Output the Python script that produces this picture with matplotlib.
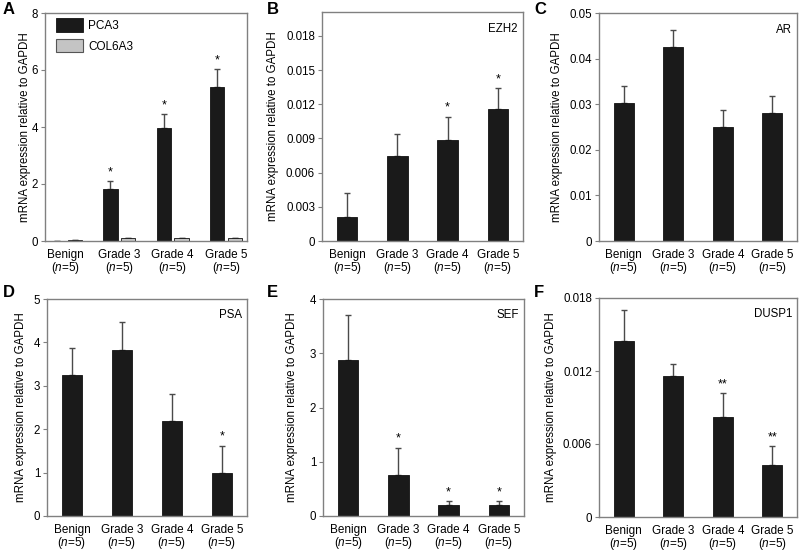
import numpy as np
import matplotlib
matplotlib.use("Agg")
import matplotlib.pyplot as plt
from matplotlib.patches import Patch

plt.rcParams['font.family'] = ['Liberation Sans', 'DejaVu Sans']
plt.rcParams['mathtext.fontset'] = 'custom'
plt.rcParams['mathtext.rm'] = 'Liberation Sans'
plt.rcParams['mathtext.it'] = 'Liberation Sans:italic'

# data
groups = ['Benign', 'Grade 3', 'Grade 4', 'Grade 5']

pca3_mean = [0.003, 1.82, 3.96, 5.42]
pca3_err = [0.0, 0.27, 0.48, 0.60]
pca3_star = ['', '*', '*', '*']
col6a3_mean = [0.03, 0.10, 0.10, 0.10]
col6a3_err = [0.005, 0.01, 0.01, 0.01]

ezh2_mean = [0.00213, 0.00744, 0.00887, 0.01159]
ezh2_err = [0.00204, 0.00193, 0.00204, 0.00186]
ezh2_star = ['', '', '*', '*']

ar_mean = [0.0302, 0.0425, 0.0249, 0.0280]
ar_err = [0.0038, 0.0038, 0.0039, 0.0038]
ar_star = ['', '', '', '']

psa_mean = [3.24, 3.83, 2.18, 0.98]
psa_err = [0.64, 0.63, 0.63, 0.64]
psa_star = ['', '', '', '*']

sef_mean = [2.88, 0.76, 0.195, 0.20]
sef_err = [0.83, 0.50, 0.075, 0.07]
sef_star = ['', '*', '*', '*']

dusp1_mean = [0.01444, 0.01156, 0.00822, 0.00425]
dusp1_err = [0.0026, 0.00099, 0.00197, 0.00156]
dusp1_star = ['', '', '**', '**']

ticks_a = [0, 2, 4, 6, 8]
ticks_b = [0, 0.003, 0.006, 0.009, 0.012, 0.015, 0.018]
ticks_c = [0, 0.01, 0.02, 0.03, 0.04, 0.05]
ticks_d = [0, 1, 2, 3, 4, 5]
ticks_e = [0, 1, 2, 3, 4]
ticks_f = [0, 0.006, 0.012, 0.018]

W, H = 799, 551
fig = plt.figure(figsize=(W / 100, H / 100), dpi=100)

BAR = '#1a1a1a'
GREY = '#c4c4c4'
ERR = '#4a4a4a'
SPINE = '#808080'


# pixel box -> figure axes
def make_ax(x0, y0, x1, y1):
    return fig.add_axes([x0 / W, 1 - y1 / H, (x1 - x0) / W, (y1 - y0) / H])


def fmt(v):
    if v == 0:
        return '0'
    return '%g' % v


def style_ax(ax, ymax, ticks, label_x, xpad, gene=None):
    ax.set_ylim(0, ymax)
    ax.set_yticks(ticks)
    ax.set_yticklabels([fmt(t) for t in ticks], fontsize=8.3)
    ax.set_xticks(range(4))
    ax.set_xticklabels([g + '\n($\\mathit{n}$=5)' for g in groups], fontsize=8.5,
                       linespacing=0.92)
    ax.tick_params(axis='x', length=0, pad=xpad)
    ax.tick_params(axis='y', length=3, width=0.8, color=SPINE, pad=2)
    for s in ax.spines.values():
        s.set_color(SPINE)
        s.set_linewidth(1.0)
    ax.set_ylabel('mRNA expression relative to GAPDH', fontsize=8.3)
    ax.yaxis.set_label_coords(label_x, 0.5)
    if gene:
        ax.text(0.975, 0.926, gene, transform=ax.transAxes, ha='right',
                va='center', fontsize=8.3)


def draw_bars(ax, x, mean, err, stars, width, color=BAR):
    ax.bar(x, mean, width, color=color, edgecolor='#111111', linewidth=0.6, zorder=2)
    ax.errorbar(x, mean, yerr=[np.zeros(len(mean)), err], fmt='none',
                ecolor=ERR, elinewidth=1.0, capsize=2.2, capthick=1.0, zorder=1)
    for xi, m, e, s in zip(x, mean, err, stars):
        if s:
            ax.annotate(s, (xi, m + e), xytext=(0, 2), textcoords='offset points',
                        ha='center', va='bottom', fontsize=9)


x = np.arange(4)

# A
ax = make_ax(45, 13, 247, 241)
draw_bars(ax, x - 0.168, pca3_mean, pca3_err, pca3_star, 0.27)
draw_bars(ax, x + 0.168, col6a3_mean, col6a3_err, ['', '', '', ''], 0.27, color=GREY)
ax.set_xlim(-0.39, 3.39)
style_ax(ax, 8, ticks_a, -0.07, 5.5)
ax.legend(handles=[Patch(facecolor=BAR, edgecolor='#111111', linewidth=0.6, label='PCA3'),
                   Patch(facecolor=GREY, edgecolor='#555555', linewidth=0.8, label='COL6A3')],
          loc='upper left', bbox_to_anchor=(0.054, 0.978), frameon=False, fontsize=8.5,
          handlelength=2.3, handleheight=1.4, borderaxespad=0, borderpad=0,
          labelspacing=0.6, handletextpad=0.45)

# B
ax = make_ax(322, 12, 523, 241)
draw_bars(ax, x, ezh2_mean, ezh2_err, ezh2_star, 0.41)
ax.set_xlim(-0.5, 3.5)
style_ax(ax, 0.0201, ticks_b, -0.214, 5.5, 'EZH2')

# C
ax = make_ax(599, 13, 797, 241)
draw_bars(ax, x, ar_mean, ar_err, ar_star, 0.41)
ax.set_xlim(-0.5, 3.5)
style_ax(ax, 0.05, ticks_c, -0.182, 5.5, 'AR')

# D
ax = make_ax(47, 299, 247, 516)
draw_bars(ax, x, psa_mean, psa_err, psa_star, 0.41)
ax.set_xlim(-0.5, 3.5)
style_ax(ax, 5, ticks_d, -0.10, 5.5, 'PSA')

# E
ax = make_ax(323, 299, 524, 516)
draw_bars(ax, x, sef_mean, sef_err, sef_star, 0.41)
ax.set_xlim(-0.5, 3.5)
style_ax(ax, 4, ticks_e, -0.124, 5.5, 'SEF')

# F
ax = make_ax(599, 298, 797, 517)
draw_bars(ax, x, dusp1_mean, dusp1_err, dusp1_star, 0.41)
ax.set_xlim(-0.5, 3.5)
style_ax(ax, 0.018, ticks_f, -0.212, 5.5, 'DUSP1')

# panel letters
for letter, px, py in [('A', 3, 2), ('B', 267, 2), ('C', 534, 2),
                       ('D', 3, 285), ('E', 267, 285), ('F', 534, 285)]:
    fig.text(px / W, 1 - py / H, letter, fontsize=12, fontweight='bold',
             ha='left', va='top')

fig.savefig('out.png', dpi=100)
